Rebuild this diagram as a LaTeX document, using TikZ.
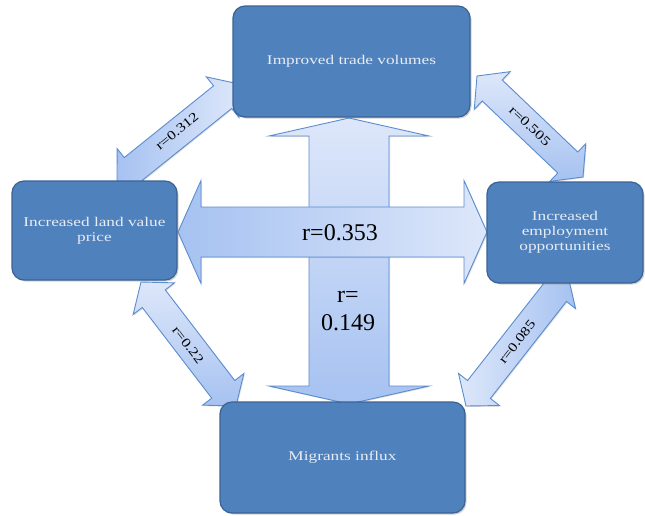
\documentclass[tikz,border=0pt]{standalone}
\usepackage{fontspec}
\setmainfont{Liberation Serif}
\newfontfamily\boxfont[FakeStretch=1.3]{Liberation Serif}
\newfontfamily\lblfont[FakeStretch=1.25]{Liberation Serif}
\usetikzlibrary{calc,shadows}
\definecolor{boxblue}{HTML}{4F81BD}
\definecolor{boxedge}{HTML}{3A6394}
\definecolor{arrlight}{HTML}{DDE7FA}
\definecolor{arrdark}{HTML}{A6C2F1}
\definecolor{arredge}{HTML}{5B8CCF}
\definecolor{boxtext}{HTML}{E8ECF3}
\tikzset{
 box/.style={draw=boxedge, line width=1.2pt, fill=boxblue, rounded corners=12pt,
   inner sep=0pt, align=center, text=boxtext,
   font=\boxfont\fontsize{13.3}{15}\selectfont,
   drop shadow={opacity=0.35, shadow xshift=1.5pt, shadow yshift=-1.5pt}},
 barrow/.style={draw=arredge, line width=0.9pt, line join=miter,
   drop shadow={opacity=0.25, shadow xshift=1pt, shadow yshift=-1pt}},
 rlbl/.style={font=\lblfont\fontsize{13}{15}\selectfont, text=black, inner sep=0pt},
 biglbl/.style={font=\fontsize{24}{28}\selectfont, text=black, align=center, inner sep=0pt},
}
% #1 options, #2 start, #3 end, #4 shaft half width, #5 head half width, #6 head length
\newcommand\blockarr[6][]{%
 \path[barrow,#1] (#2)
  -- ($(#2)!#6!(#3)!#5!90:(#3)$)
  -- ($(#2)!#6!(#3)!#4!90:(#3)$)
  -- ($(#3)!#6!(#2)!#4!-90:(#2)$)
  -- ($(#3)!#6!(#2)!#5!-90:(#2)$)
  -- (#3)
  -- ($(#3)!#6!(#2)!#5!90:(#2)$)
  -- ($(#3)!#6!(#2)!#4!90:(#2)$)
  -- ($(#2)!#6!(#3)!#4!-90:(#3)$)
  -- ($(#2)!#6!(#3)!#5!-90:(#3)$)
  -- cycle;}
\begin{document}
\begin{tikzpicture}[x=1pt,y=-1pt]
\useasboundingbox[fill=white] (0,0) rectangle (645,515);
% arrow end points
\coordinate (vt) at (349,118);
\coordinate (vb) at (349,404);
\coordinate (hl) at (178,232);
\coordinate (hr) at (487,232);
\coordinate (d1a) at (117,182);
\coordinate (d1b) at (239,84);
\coordinate (d2a) at (477,76);
\coordinate (d2b) at (583,177);
\coordinate (d3a) at (141,282);
\coordinate (d3b) at (236,406);
\coordinate (d4a) at (466,406);
\coordinate (d4b) at (568,276);
% diagonal arrows
\blockarr[left color=arrdark, right color=arrlight]{d1a}{d1b}{14.5pt}{26pt}{21pt}
\blockarr[top color=arrlight, bottom color=arrdark]{d2a}{d2b}{14.5pt}{26pt}{21pt}
\blockarr[top color=arrlight, bottom color=arrdark]{d3a}{d3b}{14.5pt}{26pt}{21pt}
\blockarr[left color=arrlight, right color=arrdark]{d4a}{d4b}{14.5pt}{26pt}{21pt}
% central arrows
\blockarr[top color=arrlight, bottom color=arrdark]{vt}{vb}{40pt}{80pt}{18pt}
\blockarr[left color=arrdark, right color=arrlight]{hl}{hr}{25pt}{51.5pt}{23pt}
% labels
\node[rlbl, rotate=39.2] (l312) at (177,131) {r=0.312};
\node[rlbl, rotate=-43.3] (l505) at (530,126) {r=0.505};
\node[rlbl, rotate=-52.5] (l22) at (188,345) {r=0.22};
\node[rlbl, rotate=51.8] (l085) at (517,342) {r=0.085};
\node[biglbl] (r353) at (340,233) {r=0.353};
\node[biglbl] (r149) at (348,311) {r=\\0.149};
% boxes
\node[box, minimum width=237pt, minimum height=111pt] (trade) at (351.5,61.5) {Improved trade volumes};
\node[box, minimum width=165pt, minimum height=99pt] (land) at (94.5,230.5) {Increased land value\\price};
\node[box, minimum width=156pt, minimum height=101pt] (employ) at (565,232.5) {Increased\\employment\\opportunities};
\node[box, minimum width=245pt, minimum height=111pt] (migr) at (342.5,457.5) {Migrants influx};
\end{tikzpicture}
\end{document}
